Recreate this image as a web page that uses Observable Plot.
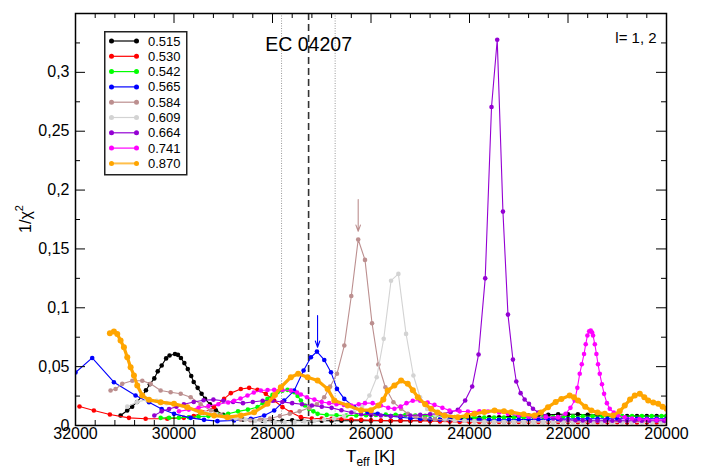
<!DOCTYPE html>
<html><head><meta charset="utf-8">
<script src="https://cdn.jsdelivr.net/npm/d3@7"></script>
<script src="https://cdn.jsdelivr.net/npm/@observablehq/plot@0.6"></script>
<style>
html,body{margin:0;padding:0;background:#fff;}
#wrap{position:relative;width:702px;height:468px;font-family:"Liberation Sans",Arial,sans-serif;}
#legend{position:absolute;left:104px;top:31px;}
</style></head><body><div id="wrap"></div>
<script>
// ---- data ----
const seriesNames = ["0.515","0.530","0.542","0.565","0.584","0.609","0.664","0.741","0.870"];
const seriesColors = ["#000000","#ff0000","#00ff00","#0000ff","#bc8f8f","#d3d3d3","#9400d3","#ff00ff","#ffa500"];

const m0515 = [[31085,0.0085],[30950,0.0127],[30850,0.016],[30750,0.020],[30650,0.025],[30570,0.030],[30490,0.035],[30400,0.040],[30330,0.046],[30250,0.051],[30160,0.057],[30090,0.0595],[29980,0.0608],[29920,0.060],[29860,0.0574],[29790,0.053],[29720,0.048],[29650,0.042],[29600,0.037],[29520,0.032],[29440,0.027],[29370,0.0226],[29270,0.018],[29150,0.013],[29000,0.009],[28800,0.006],[28600,0.005],[28400,0.0045],[28200,0.004],[28000,0.004],[27800,0.004],[27600,0.0045],[27400,0.0045],[27200,0.004],[27000,0.004],[26800,0.004],[26600,0.004],[26400,0.004],[26200,0.004],[26000,0.004],[25800,0.004],[25600,0.004],[25400,0.004],[25200,0.004],[25000,0.004],[24800,0.0045],[24600,0.005],[24400,0.0055],[24200,0.006],[24000,0.006],[23800,0.0065],[23600,0.007],[23400,0.007],[23200,0.0075],[23000,0.008],[22800,0.0085],[22600,0.009],[22400,0.009],[22200,0.0095],[22000,0.0095],[21800,0.0095],[21600,0.009],[21400,0.009],[21200,0.0085],[21000,0.008],[20800,0.008],[20600,0.008],[20400,0.008],[20200,0.008],[20000,0.008]];

const m0530 = [[31919,0.0161],[31627,0.0127],[31302,0.0093],[30915,0.0065],[30576,0.0057],[30136,0.0057],[29800,0.0065],[29600,0.008],[29400,0.011],[29186,0.0156],[28983,0.0226],[28847,0.0275],[28644,0.031],[28474,0.032],[28305,0.0303],[28136,0.0269],[27966,0.0212],[27797,0.0156],[27627,0.0113],[27424,0.0071],[27200,0.006],[27000,0.0058],[26800,0.0056],[26600,0.0055],[26400,0.005],[26200,0.0048],[26000,0.0045],[25800,0.0043],[25600,0.004],[25400,0.004],[25200,0.004],[25000,0.004],[24800,0.0037],[24600,0.0035],[24400,0.0033],[24200,0.003],[24000,0.003],[23800,0.003],[23600,0.003],[23400,0.003],[23200,0.003],[23000,0.003],[22800,0.003],[22600,0.003],[22400,0.003],[22200,0.003],[22000,0.003],[21800,0.0028],[21600,0.0028],[21400,0.0028],[21200,0.0028],[21000,0.0028],[20800,0.0026],[20600,0.0025],[20400,0.0025],[20200,0.0025],[20000,0.0025]];

const m0542 = [[30271,0.0065],[30100,0.0065],[29900,0.0066],[29700,0.007],[29500,0.0075],[29300,0.008],[29100,0.009],[28900,0.010],[28700,0.012],[28500,0.0135],[28305,0.0156],[28200,0.019],[28102,0.0226],[28000,0.026],[27898,0.0283],[27800,0.0295],[27695,0.0303],[27620,0.0295],[27559,0.0283],[27490,0.025],[27424,0.0212],[27340,0.017],[27254,0.0141],[27170,0.012],[27085,0.0099],[26900,0.009],[26700,0.0087],[26500,0.0085],[26300,0.0085],[26100,0.0088],[25900,0.009],[25700,0.0092],[25500,0.0091],[25300,0.009],[25100,0.0085],[24900,0.0082],[24700,0.008],[24500,0.0075],[24300,0.0072],[24100,0.007],[23900,0.007],[23700,0.0068],[23500,0.0068],[23300,0.0068],[23100,0.0068],[22900,0.0069],[22700,0.007],[22500,0.007],[22300,0.0072],[22100,0.0075],[21900,0.0076],[21700,0.0078],[21500,0.0078],[21300,0.008],[21100,0.008],[20900,0.008],[20700,0.008],[20500,0.008],[20300,0.008],[20100,0.008],[20000,0.008]];

const m0565 = [[32000,0.045],[31661,0.0574],[31220,0.0368],[30780,0.0255],[30508,0.0198],[30250,0.014],[30000,0.0099],[29661,0.0065],[29390,0.0048],[29118,0.0037],[28780,0.0042],[28440,0.0057],[28169,0.0085],[27966,0.0127],[27763,0.0212],[27559,0.0297],[27369,0.0467],[27220,0.058],[27098,0.0628],[26949,0.0557],[26813,0.0453],[26691,0.0311],[26542,0.0226],[26339,0.0156],[26068,0.0113],[25864,0.0099],[25600,0.008],[25400,0.007],[25200,0.0062],[25000,0.0055],[24800,0.0052],[24600,0.005],[24400,0.005],[24200,0.0048],[24000,0.0048],[23800,0.0048],[23600,0.0048],[23400,0.0048],[23200,0.0049],[23000,0.005],[22800,0.0051],[22600,0.0052],[22400,0.0053],[22200,0.0054],[22000,0.0055],[21800,0.0056],[21600,0.0057],[21400,0.0057],[21200,0.0057],[21000,0.0057],[20800,0.0057],[20600,0.0057],[20400,0.0057],[20200,0.0057],[20000,0.0057]];

const m0584 = [[31288,0.0297],[31186,0.031],[31051,0.0354],[30847,0.038],[30644,0.038],[30474,0.0354],[30271,0.0297],[30068,0.0283],[29864,0.027],[29661,0.024],[29458,0.018],[29254,0.0127],[29050,0.009],[28850,0.0065],[28650,0.005],[28450,0.0045],[28250,0.005],[28050,0.006],[27850,0.008],[27650,0.010],[27450,0.012],[27250,0.015],[27100,0.018],[26950,0.024],[26830,0.033],[26691,0.0439],[26542,0.0679],[26400,0.11],[26260,0.158],[26122,0.1407],[25979,0.0869],[25850,0.0518],[25708,0.0325],[25545,0.0198],[25389,0.0142],[25250,0.010],[25100,0.0075],[24900,0.006],[24700,0.0052],[24500,0.0048],[24300,0.0043],[24100,0.004],[23900,0.0037],[23700,0.0035],[23500,0.0032],[23300,0.003],[23100,0.003],[22900,0.003],[22700,0.003],[22500,0.003],[22300,0.003],[22100,0.003],[21900,0.003],[21700,0.003],[21500,0.003],[21300,0.003],[21100,0.003],[20900,0.003],[20700,0.003],[20500,0.003],[20300,0.003],[20100,0.003],[20000,0.003]];

const m0609 = [[30950,0.016],[30750,0.020],[30550,0.022],[30350,0.021],[30150,0.019],[29950,0.017],[29750,0.015],[29550,0.013],[29350,0.011],[29150,0.009],[28950,0.007],[28750,0.006],[28550,0.005],[28350,0.004],[28150,0.0035],[27950,0.003],[27750,0.003],[27550,0.003],[27350,0.0035],[27150,0.004],[26950,0.005],[26750,0.006],[26550,0.008],[26350,0.011],[26180,0.016],[26033,0.0255],[25884,0.041],[25742,0.0736],[25593,0.123],[25444,0.1288],[25288,0.0778],[25139,0.0425],[25003,0.024],[24860,0.014],[24700,0.009],[24500,0.006],[24300,0.0045],[24100,0.004],[23900,0.0035],[23700,0.003],[23500,0.003],[23300,0.003],[23100,0.003],[22900,0.003],[22700,0.003],[22500,0.003],[22300,0.003],[22100,0.003],[21900,0.003],[21700,0.003],[21500,0.003],[21300,0.003],[21100,0.0028],[20900,0.0028],[20700,0.0028],[20500,0.0028],[20300,0.0028],[20100,0.0028],[20000,0.0028]];

const m0664 = [[30400,0.0085],[30250,0.012],[30100,0.014],[29950,0.016],[29800,0.018],[29600,0.020],[29400,0.0215],[29200,0.022],[29000,0.021],[28800,0.020],[28600,0.019],[28400,0.020],[28200,0.021],[28000,0.021],[27800,0.020],[27600,0.019],[27400,0.018],[27200,0.017],[27000,0.016],[26800,0.015],[26600,0.013],[26400,0.011],[26200,0.0095],[26000,0.009],[25800,0.0085],[25600,0.008],[25400,0.008],[25200,0.0085],[25000,0.009],[24800,0.0095],[24600,0.010],[24386,0.0113],[24237,0.0133],[24088,0.0212],[23945,0.0331],[23816,0.0603],[23681,0.125],[23553,0.2706],[23437,0.3277],[23321,0.1817],[23219,0.0942],[23118,0.056],[23050,0.0374],[22962,0.0275],[22881,0.0221],[22793,0.0184],[22711,0.0142],[22600,0.011],[22450,0.008],[22300,0.006],[22150,0.005],[22000,0.0048],[21850,0.0045],[21700,0.0042],[21550,0.004],[21400,0.004],[21250,0.004],[21100,0.004],[20950,0.004],[20800,0.004],[20650,0.004],[20500,0.004],[20350,0.004],[20200,0.004],[20050,0.004]];

const m0741 = [[29900,0.012],[29700,0.0135],[29500,0.015],[29300,0.0165],[29100,0.018],[28900,0.0195],[28780,0.021],[28650,0.023],[28508,0.0255],[28380,0.028],[28237,0.0297],[28100,0.0302],[27966,0.0303],[27800,0.0301],[27627,0.0297],[27500,0.028],[27424,0.0263],[27300,0.024],[27150,0.022],[27000,0.020],[26850,0.019],[26700,0.018],[26550,0.0175],[26400,0.017],[26250,0.018],[26122,0.019],[25966,0.019],[25800,0.017],[25650,0.015],[25525,0.0142],[25400,0.016],[25280,0.019],[25152,0.021],[25000,0.021],[24850,0.0195],[24711,0.0175],[24550,0.015],[24406,0.0127],[24200,0.012],[24033,0.0119],[23800,0.012],[23626,0.0119],[23400,0.011],[23219,0.0099],[23000,0.0085],[22800,0.0075],[22677,0.0071],[22450,0.007],[22203,0.0071],[22050,0.010],[21950,0.015],[21864,0.0212],[21810,0.032],[21762,0.0439],[21720,0.052],[21674,0.0608],[21640,0.069],[21606,0.0764],[21570,0.080],[21538,0.0807],[21510,0.079],[21491,0.0764],[21455,0.069],[21423,0.0608],[21390,0.052],[21355,0.0439],[21310,0.035],[21267,0.0269],[21210,0.019],[21152,0.0142],[21070,0.011],[20983,0.0085],[20850,0.007],[20700,0.006],[20550,0.0055],[20400,0.005],[20200,0.0048],[20000,0.0048]];

const m0870 = [[31302,0.0784],[31220,0.0798],[31152,0.0778],[31085,0.0722],[31017,0.0665],[30949,0.058],[30881,0.0495],[30813,0.0425],[30746,0.034],[30644,0.0255],[30508,0.0218],[30271,0.0198],[30000,0.0184],[29729,0.0156],[29458,0.0113],[29186,0.0085],[28915,0.0071],[28644,0.0085],[28373,0.0113],[28102,0.0184],[27950,0.026],[27831,0.0325],[27627,0.041],[27478,0.0439],[27288,0.041],[27085,0.0382],[26881,0.0311],[26745,0.0212],[26474,0.017],[26203,0.013],[26000,0.013],[25850,0.017],[25750,0.022],[25661,0.0297],[25525,0.034],[25389,0.0382],[25254,0.0354],[25150,0.030],[25050,0.024],[24900,0.018],[24779,0.0142],[24650,0.011],[24508,0.0085],[24237,0.0071],[24050,0.0085],[23898,0.0099],[23700,0.0115],[23491,0.0127],[23300,0.012],[23152,0.0113],[22900,0.0095],[22677,0.0085],[22550,0.011],[22406,0.0156],[22250,0.020],[22135,0.0226],[21966,0.0255],[21880,0.024],[21796,0.0212],[21650,0.016],[21525,0.0127],[21400,0.011],[21254,0.0099],[21084,0.0085],[20950,0.012],[20847,0.017],[20740,0.022],[20644,0.0255],[20542,0.0269],[20450,0.024],[20372,0.0212],[20269,0.0195],[20169,0.0184],[20080,0.016],[20000,0.0142]];

const seriesData = [m0515, m0530, m0542, m0565, m0584, m0609, m0664, m0741, m0870];

const xTicks = [32000, 30000, 28000, 26000, 24000, 22000, 20000];
const xTickLabels = ["32000","30000","28000","26000","24000","22000","20000"];
const xMinorTicks = [31600,31200,30800,30400,29600,29200,28800,28400,27600,27200,26800,26400,25600,25200,24800,24400,23600,23200,22800,22400,21600,21200,20800,20400];
const yTicks = [0, 0.05, 0.1, 0.15, 0.2, 0.25, 0.3];
const yTickLabels = ["0","0,05","0,1","0,15","0,2","0,25","0,3"];
const yMinorTicks = [0.025,0.075,0.125,0.175,0.225,0.275,0.325];

const ecTeff = [27267];
const ecErrors = [27816, 26728];
const arrowTeff = [27085, 26260];
const arrowFrom = [0.0934, 0.192];
const arrowTo = [0.0665, 0.165];
const arrowColors = ["#0000ff", "#bc8f8f"];

// ---- build ----
const W = 702, H = 468, mL = 75, mR = 36, mT = 13, mB = 43;
const innerW = W - mL - mR, innerH = H - mT - mB;
const font = '"Liberation Sans", Arial, Helvetica, sans-serif';

const rows = seriesData.flatMap((s, i) => s.map(([t, v]) => ({teff: t, v, model: seriesNames[i], idx: i})));
const arrows = arrowTeff.map((t, i) => ({teff: t, y1: arrowFrom[i], y2: arrowTo[i], color: arrowColors[i]}));

const seriesMarks = seriesData.flatMap((s, i) => {
  const data = rows.filter(d => d.idx === i);
  const thick = seriesNames[i] === "0.870";
  return [
    Plot.line(data, {x: "teff", y: "v", stroke: seriesColors[i], strokeWidth: thick ? 3.2 : 1.1, clip: true}),
    Plot.dot(data, {x: "teff", y: "v", fill: seriesColors[i], r: thick ? 3 : 2.3, clip: true})
  ];
});

const chart = Plot.plot({
  width: W, height: H,
  marginLeft: mL, marginRight: mR, marginTop: mT, marginBottom: mB,
  style: {fontFamily: font, fontSize: "16px", background: "white", color: "black", overflow: "visible"},
  x: {domain: [32000, 20000], label: null},
  y: {domain: [0, 0.35], label: null},
  marks: [
    Plot.ruleX(ecErrors, {x: d => d, stroke: "#9a9a9a", strokeWidth: 1, strokeDasharray: "1,1.5"}),
    Plot.ruleX(ecTeff, {x: d => d, stroke: "#333", strokeWidth: 1.6, strokeDasharray: "7,4"}),
    ...seriesMarks,
    Plot.arrow(arrows, {x1: "teff", x2: "teff", y1: "y1", y2: "y2", stroke: "color", strokeWidth: 1.1, headLength: 9, headAngle: 40}),
    Plot.text(["EC 04207"], {x: ecTeff[0], y: 0.318, text: d => d, fontSize: 19.5, lineAnchor: "bottom", fill: "black"}),
    Plot.text(["l= 1, 2"], {x: 20620, y: 0.329, text: d => d, fontSize: 15, fill: "black"}),
    // inward ticks
    Plot.ruleX(xTicks, {x: d => d, insetTop: innerH - 10, stroke: "black"}),
    Plot.ruleX(xTicks, {x: d => d, insetBottom: innerH - 10, stroke: "black"}),
    Plot.ruleX(xMinorTicks, {x: d => d, insetTop: innerH - 5, stroke: "black"}),
    Plot.ruleX(xMinorTicks, {x: d => d, insetBottom: innerH - 5, stroke: "black"}),
    Plot.ruleY(yTicks, {y: d => d, insetRight: innerW - 10, stroke: "black"}),
    Plot.ruleY(yTicks, {y: d => d, insetLeft: innerW - 10, stroke: "black"}),
    Plot.ruleY(yMinorTicks, {y: d => d, insetRight: innerW - 5, stroke: "black"}),
    Plot.ruleY(yMinorTicks, {y: d => d, insetLeft: innerW - 5, stroke: "black"}),
    Plot.axisX({ticks: xTicks, tickSize: 0, tickPadding: 2, tickFormat: (d, i) => xTickLabels[xTicks.indexOf(d)], label: null}),
    Plot.axisY({ticks: yTicks, tickSize: 0, tickPadding: 6, tickFormat: d => yTickLabels[yTicks.indexOf(d)], label: null}),
    Plot.frame({stroke: "black", strokeWidth: 1.5})
  ]
});

const wrap = document.getElementById("wrap");
wrap.appendChild(chart);

// axis titles with sub/superscripts
const svg = d3.select(chart);
const xl = svg.append("text").attr("x", mL + innerW / 2).attr("y", 462).attr("text-anchor", "middle")
  .attr("font-size", 17).attr("font-family", font).attr("fill", "black");
xl.append("tspan").text("T");
xl.append("tspan").attr("font-size", 12).attr("dy", 4).text("eff");
xl.append("tspan").attr("dy", -4).text(" [K]");

const yl = svg.append("text").attr("transform", `translate(31,${mT + innerH / 2}) rotate(-90)`).attr("text-anchor", "middle")
  .attr("font-size", 16).attr("font-family", font).attr("fill", "black");
yl.append("tspan").text("1/χ");
yl.append("tspan").attr("font-size", 11).attr("dy", -8).text("2");

// legend
const lg = d3.select(wrap).append("svg").attr("id", "legend").attr("width", 84).attr("height", 145);
lg.append("rect").attr("x", 0.75).attr("y", 0.75).attr("width", 82).attr("height", 143).attr("fill", "white").attr("stroke", "#222").attr("stroke-width", 1.5);
seriesNames.forEach((name, i) => {
  const y = 10 + i * 15.3;
  const g = lg.append("g");
  g.append("line").attr("x1", 7.5).attr("x2", 32.5).attr("y1", y).attr("y2", y).attr("stroke", seriesColors[i]).attr("stroke-width", name === "0.870" ? 2 : 1.2).attr("opacity", name === "0.870" ? 0.7 : 1);
  g.append("circle").attr("cx", 7.5).attr("cy", y).attr("r", 2.5).attr("fill", seriesColors[i]);
  g.append("circle").attr("cx", 32.5).attr("cy", y).attr("r", 2.5).attr("fill", seriesColors[i]);
  g.append("text").attr("x", 44).attr("y", y).attr("dy", "0.35em").attr("font-size", 13).attr("font-family", font).attr("fill", "black").text(name);
});
</script>
</body></html>
